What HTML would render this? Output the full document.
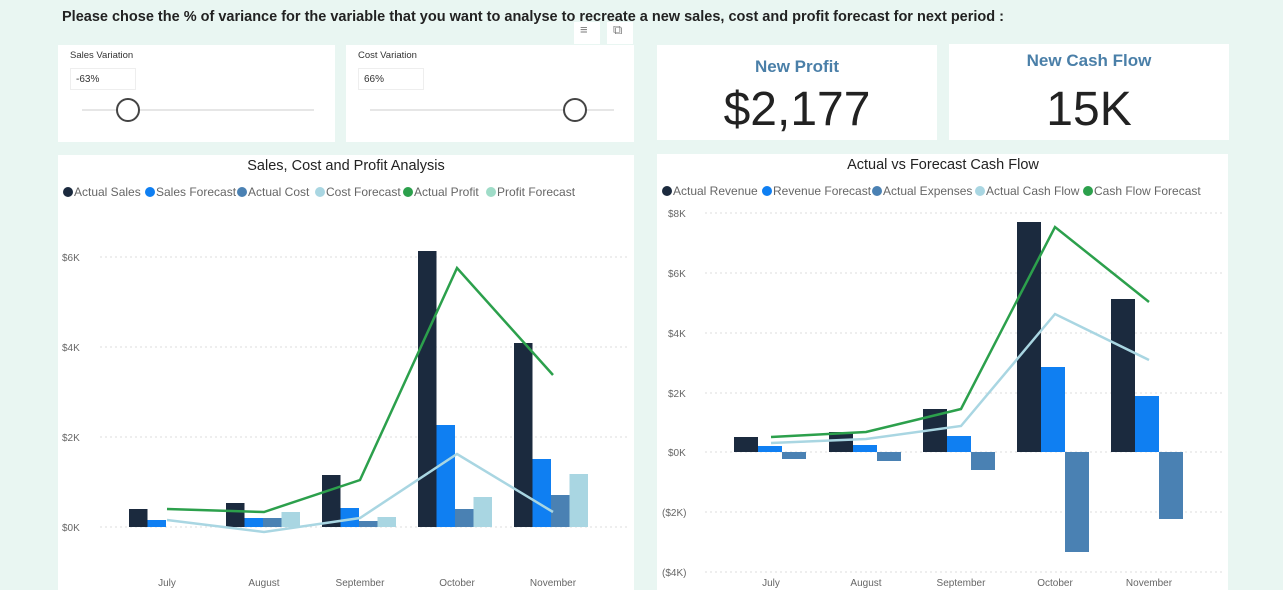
<!DOCTYPE html>
<html><head><meta charset="utf-8"><style>
body{margin:0;width:1283px;height:590px;background:#e9f6f2;font-family:"Liberation Sans",sans-serif;overflow:hidden;position:relative}
.p{position:absolute;background:#fff}
.t{position:absolute;white-space:nowrap}
</style></head><body>
<div class="t" style="left:62px;top:9px;font-size:14.5px;font-weight:bold;color:#222">Please chose the % of variance for the variable that you want to analyse to recreate a new sales, cost and profit forecast for next period :</div>
<div class="p" style="left:574px;top:22px;width:26px;height:22px"></div>
<div class="p" style="left:607px;top:22px;width:26px;height:22px"></div>
<div class="t" style="left:580px;top:22px;font-size:13px;color:#777">≡</div>
<div class="t" style="left:613px;top:22px;font-size:13px;color:#777">⧉</div>

<div class="p" style="left:58px;top:45px;width:277px;height:97px"></div>
<div class="t" style="left:70px;top:50px;font-size:9.5px;color:#333">Sales Variation</div>
<div class="p" style="left:70px;top:68px;width:66px;height:22px;border:1px solid #eee;box-sizing:border-box"></div>
<div class="t" style="left:76px;top:74px;font-size:10px;color:#333">-63%</div>
<div class="p" style="left:82px;top:109px;width:232px;height:2px;background:#e6e6e6"></div>
<div class="p" style="left:116px;top:98px;width:20px;height:20px;border:2px solid #444;border-radius:50%"></div>

<div class="p" style="left:346px;top:45px;width:288px;height:97px"></div>
<div class="t" style="left:358px;top:50px;font-size:9.5px;color:#333">Cost Variation</div>
<div class="p" style="left:358px;top:68px;width:66px;height:22px;border:1px solid #eee;box-sizing:border-box"></div>
<div class="t" style="left:364px;top:74px;font-size:10px;color:#333">66%</div>
<div class="p" style="left:370px;top:109px;width:244px;height:2px;background:#e6e6e6"></div>
<div class="p" style="left:563px;top:98px;width:20px;height:20px;border:2px solid #444;border-radius:50%"></div>

<div class="p" style="left:657px;top:45px;width:280px;height:95px"></div>
<div class="t" style="left:657px;width:280px;text-align:center;top:57px;font-size:17px;font-weight:bold;color:#4a7fa8">New Profit</div>
<div class="t" style="left:657px;width:280px;text-align:center;top:82px;font-size:48px;color:#222">$2,177</div>
<div class="p" style="left:949px;top:44px;width:280px;height:96px"></div>
<div class="t" style="left:949px;width:280px;text-align:center;top:51px;font-size:17px;font-weight:bold;color:#4a7fa8">New Cash Flow</div>
<div class="t" style="left:949px;width:280px;text-align:center;top:82px;font-size:48px;color:#222">15K</div>

<div class="p" style="left:58px;top:155px;width:576px;height:435px"></div>
<div class="p" style="left:657px;top:154px;width:571px;height:436px"></div>

<svg width="1283" height="590" style="position:absolute;left:0;top:0" font-family="Liberation Sans,sans-serif">
<text x="346" y="170" font-size="14.5" fill="#222" text-anchor="middle">Sales, Cost and Profit Analysis</text>
<g font-size="12" fill="#666">
<circle cx="68" cy="192" r="5" fill="#1b2a3e"/><text x="74" y="196">Actual Sales</text>
<circle cx="150" cy="192" r="5" fill="#0f7ff2"/><text x="156" y="196">Sales Forecast</text>
<circle cx="242" cy="192" r="5" fill="#4a81b3"/><text x="248" y="196">Actual Cost</text>
<circle cx="320" cy="192" r="5" fill="#a9d6e2"/><text x="326" y="196">Cost Forecast</text>
<circle cx="408" cy="192" r="5" fill="#2ca04c"/><text x="414" y="196">Actual Profit</text>
<circle cx="491" cy="192" r="5" fill="#9fdcc8"/><text x="497" y="196">Profit Forecast</text>
</g>
<g stroke="#ddd" stroke-dasharray="2,3">
<line x1="100" x2="628" y1="257" y2="257"/><line x1="100" x2="628" y1="347" y2="347"/><line x1="100" x2="628" y1="437" y2="437"/><line x1="100" x2="628" y1="527" y2="527"/>
</g>
<g font-size="10" fill="#666">
<text x="62" y="261">$6K</text><text x="62" y="351">$4K</text><text x="62" y="441">$2K</text><text x="62" y="531">$0K</text>
<text x="167" y="586" text-anchor="middle">July</text><text x="264" y="586" text-anchor="middle">August</text><text x="360" y="586" text-anchor="middle">September</text><text x="457" y="586" text-anchor="middle">October</text><text x="553" y="586" text-anchor="middle">November</text>
</g>
<g>
<rect x="129" y="509" width="18.5" height="18" fill="#1b2a3e"/><rect x="147.5" y="520" width="18.5" height="7" fill="#0f7ff2"/>
<rect x="226" y="503" width="18.5" height="24" fill="#1b2a3e"/><rect x="244.5" y="518" width="18.5" height="9" fill="#0f7ff2"/><rect x="263" y="518" width="18.5" height="9" fill="#4a81b3"/><rect x="281.5" y="512" width="18.5" height="15" fill="#a9d6e2"/>
<rect x="322" y="475" width="18.5" height="52" fill="#1b2a3e"/><rect x="340.5" y="508" width="18.5" height="19" fill="#0f7ff2"/><rect x="359" y="521" width="18.5" height="6" fill="#4a81b3"/><rect x="377.5" y="517" width="18.5" height="10" fill="#a9d6e2"/>
<rect x="418" y="251" width="18.5" height="276" fill="#1b2a3e"/><rect x="436.5" y="425" width="18.5" height="102" fill="#0f7ff2"/><rect x="455" y="509" width="18.5" height="18" fill="#4a81b3"/><rect x="473.5" y="497" width="18.5" height="30" fill="#a9d6e2"/>
<rect x="514" y="343" width="18.5" height="184" fill="#1b2a3e"/><rect x="532.5" y="459" width="18.5" height="68" fill="#0f7ff2"/><rect x="551" y="495" width="18.5" height="32" fill="#4a81b3"/><rect x="569.5" y="474" width="18.5" height="53" fill="#a9d6e2"/>
</g>
<polyline points="167,509 264,512 360,480 457,268 553,375" fill="none" stroke="#2ca04c" stroke-width="2.5"/>
<polyline points="167,520 264,532 360,518 457,454 553,512" fill="none" stroke="#a9d6e2" stroke-width="2.5"/>

<text x="943" y="169" font-size="14.5" fill="#222" text-anchor="middle">Actual vs Forecast Cash Flow</text>
<g font-size="12" fill="#666">
<circle cx="667" cy="191" r="5" fill="#1b2a3e"/><text x="673" y="195">Actual Revenue</text>
<circle cx="767" cy="191" r="5" fill="#0f7ff2"/><text x="773" y="195">Revenue Forecast</text>
<circle cx="877" cy="191" r="5" fill="#4a81b3"/><text x="883" y="195">Actual Expenses</text>
<circle cx="980" cy="191" r="5" fill="#a9d6e2"/><text x="986" y="195">Actual Cash Flow</text>
<circle cx="1088" cy="191" r="5" fill="#2ca04c"/><text x="1094" y="195">Cash Flow Forecast</text>
</g>
<g stroke="#ddd" stroke-dasharray="2,3">
<line x1="705" x2="1222" y1="213" y2="213"/><line x1="705" x2="1222" y1="273" y2="273"/><line x1="705" x2="1222" y1="333" y2="333"/><line x1="705" x2="1222" y1="393" y2="393"/><line x1="705" x2="1222" y1="452" y2="452"/><line x1="705" x2="1222" y1="512" y2="512"/><line x1="705" x2="1222" y1="572" y2="572"/>
</g>
<g font-size="10" fill="#666">
<text x="668" y="217">$8K</text><text x="668" y="277">$6K</text><text x="668" y="337">$4K</text><text x="668" y="397">$2K</text><text x="668" y="456">$0K</text><text x="662" y="516">($2K)</text><text x="662" y="576">($4K)</text>
<text x="771" y="586" text-anchor="middle">July</text><text x="866" y="586" text-anchor="middle">August</text><text x="961" y="586" text-anchor="middle">September</text><text x="1055" y="586" text-anchor="middle">October</text><text x="1149" y="586" text-anchor="middle">November</text>
</g>
<g>
<rect x="734" y="437" width="24" height="15" fill="#1b2a3e"/><rect x="758" y="446" width="24" height="6" fill="#0f7ff2"/><rect x="782" y="452" width="24" height="7" fill="#4a81b3"/>
<rect x="829" y="432" width="24" height="20" fill="#1b2a3e"/><rect x="853" y="445" width="24" height="7" fill="#0f7ff2"/><rect x="877" y="452" width="24" height="9" fill="#4a81b3"/>
<rect x="923" y="409" width="24" height="43" fill="#1b2a3e"/><rect x="947" y="436" width="24" height="16" fill="#0f7ff2"/><rect x="971" y="452" width="24" height="18" fill="#4a81b3"/>
<rect x="1017" y="222" width="24" height="230" fill="#1b2a3e"/><rect x="1041" y="367" width="24" height="85" fill="#0f7ff2"/><rect x="1065" y="452" width="24" height="100" fill="#4a81b3"/>
<rect x="1111" y="299" width="24" height="153" fill="#1b2a3e"/><rect x="1135" y="396" width="24" height="56" fill="#0f7ff2"/><rect x="1159" y="452" width="24" height="67" fill="#4a81b3"/>
</g>
<polyline points="771,443 866,439 961,426 1055,314 1149,360" fill="none" stroke="#a9d6e2" stroke-width="2.5"/>
<polyline points="771,437 866,432 961,409 1055,227 1149,302" fill="none" stroke="#2ca04c" stroke-width="2.5"/>
</svg>
</body></html>
